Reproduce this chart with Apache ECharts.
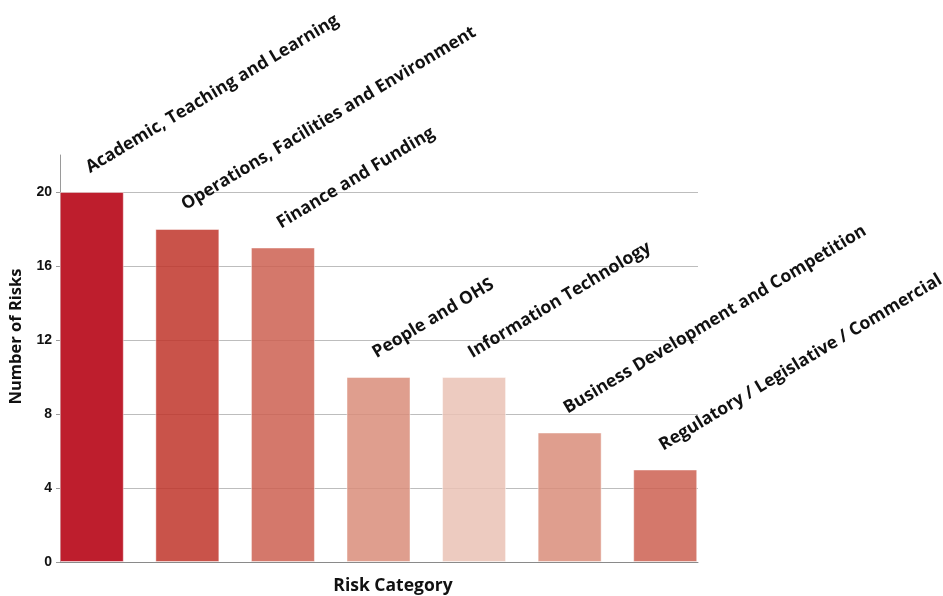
<!DOCTYPE html>
<html>
<head>
<meta charset="utf-8">
<script src="https://cdn.jsdelivr.net/npm/echarts@6/dist/echarts.min.js"></script>
<style>html,body{margin:0;padding:0;background:#fff;}#c{width:943px;height:596px;}</style>
</head>
<body>
<div id="c"></div>
<script>
const categories = [
  'Academic, Teaching and Learning',
  'Operations, Facilities and Environment',
  'Finance and Funding',
  'People and OHS',
  'Information Technology',
  'Business Development and Competition',
  'Regulatory / Legislative / Commercial'
];
const riskCounts = [20, 18, 17, 10, 10, 7, 5];
const barColors = [
  'rgb(190,30,45)',
  'rgba(191,53,42,0.85)',
  'rgba(204,96,81,0.85)',
  'rgba(217,141,122,0.85)',
  'rgba(234,194,181,0.85)',
  'rgba(217,141,122,0.85)',
  'rgba(204,96,81,0.85)'
];
const yTicks = [0, 4, 8, 12, 16, 20];

const chart = echarts.init(document.getElementById('c'), null, {renderer: 'canvas'});
const labelFont = '"Open Sans", "Noto Sans", sans-serif';
chart.setOption({
  animation: false,
  grid: [
    {left: 60, right: 245, top: 155, bottom: 34, containLabel: false, outerBoundsMode: 'none'},
    {left: 44, width: 669, top: 155, bottom: 34, containLabel: false, outerBoundsMode: 'none'}
  ],
  xAxis: [
    {
      gridIndex: 0, type: 'category', data: categories,
      axisLine: {lineStyle: {color: '#8a8a8a', width: 1}},
      axisTick: {show: false}, axisLabel: {show: false},
      name: 'Risk Category', nameLocation: 'middle', nameGap: 15,
      nameTextStyle: {fontFamily: labelFont, fontWeight: 'bold', fontSize: 17.5, color: '#111', padding: [0, 0, 0, 28]}
    },
    {
      gridIndex: 1, type: 'category', data: categories,
      axisLine: {show: false}, axisTick: {show: false}, axisLabel: {show: false}
    }
  ],
  yAxis: [
    {
      gridIndex: 0, type: 'value', min: 0, max: 22, interval: 4,
      axisLine: {show: true, lineStyle: {color: '#9a9a9a'}},
      axisTick: {show: true, length: 4, lineStyle: {color: '#9a9a9a'}},
      axisLabel: {
        showMaxLabel: false, fontFamily: '"Liberation Sans", Arial, sans-serif',
        fontWeight: 'bold', fontSize: 14, color: '#111', margin: 8,
        formatter: v => (yTicks.indexOf(v) >= 0 ? String(v) : '')
      },
      splitLine: {show: true, showMaxLine: false, lineStyle: {color: '#bdbdbd', width: 1}},
      name: 'Number of Risks', nameLocation: 'middle', nameGap: 35,
      nameTextStyle: {fontFamily: labelFont, fontWeight: 'bold', fontSize: 16.5, color: '#111', padding: [0, 0, 0, 44]}
    },
    {
      gridIndex: 1, type: 'value', min: 0, max: 22, interval: 4, show: false,
      splitLine: {show: false}
    }
  ],
  series: [{
    type: 'bar', xAxisIndex: 1, yAxisIndex: 1, barWidth: 64,
    data: riskCounts.map((v, i) => ({value: v, itemStyle: {color: barColors[i]}})),
    itemStyle: {borderColor: 'rgba(255,255,255,0.45)', borderWidth: 1},
    label: {
      show: true, position: 'top', distance: 0, rotate: 31,
      align: 'left', verticalAlign: 'bottom', offset: [8, -13],
      formatter: p => p.name,
      fontFamily: labelFont, fontWeight: 'bold', fontSize: 17.5, color: '#111'
    }
  }]
});
</script>
</body>
</html>
